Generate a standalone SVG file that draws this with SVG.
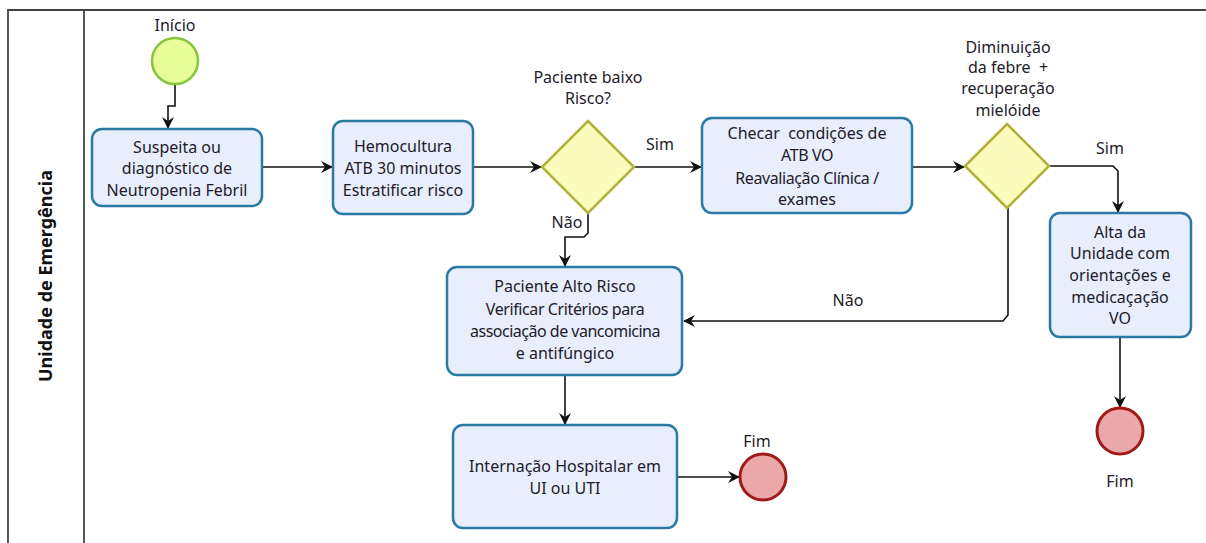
<svg xmlns="http://www.w3.org/2000/svg" width="1206" height="543" viewBox="0 0 1206 543">
<defs>
<style>
text{font-family:"Noto Sans","Open Sans","DejaVu Sans",sans-serif;font-size:16px;fill:#231a2a;text-anchor:middle;white-space:pre}
.task{fill:#e8eefc;stroke:#2a7aa3;stroke-width:2.5}
.gw{fill:#fbfbbb;stroke:#b2b13a;stroke-width:2.5}
.start{fill:#e6fd98;stroke:#86c43c;stroke-width:2.5}
.end{fill:#eaa8a9;stroke:#a11a1a;stroke-width:3}
.edge{fill:none;stroke:#111;stroke-width:1.6}
.pool{fill:none;stroke:#444;stroke-width:1.8}
.cond{letter-spacing:-0.4px}
</style>
<marker id="arr" viewBox="0 0 12 12" refX="11" refY="6" markerWidth="12" markerHeight="12" markerUnits="userSpaceOnUse" orient="auto">
<path d="M0,0 L12,6 L0,12 L4,6 z" fill="#111"/>
</marker>
</defs>
<rect width="1206" height="543" fill="#fff"/>
<g id="pool">
<path class="pool" d="M8,543 L8,10 L1206,10"/>
<line class="pool" x1="84" y1="10" x2="84" y2="543"/>
<text transform="translate(52,276) rotate(-90)" style="font-size:18px;font-weight:bold;fill:#111">Unidade de Emergência</text>
</g>
<g id="connectors">
<path class="edge" d="M175,84 L175,106 L168,106 L168,128" marker-end="url(#arr)"/>
<path class="edge" d="M262,167 L332,167" marker-end="url(#arr)"/>
<path class="edge" d="M473,167 L541,167" marker-end="url(#arr)"/>
<path class="edge" d="M634,167 L701,167" marker-end="url(#arr)"/>
<text x="660" y="150">Sim</text>
<path class="edge" d="M588,213 L588,233 L584,237 L565,237 L565,266" marker-end="url(#arr)"/>
<text x="567" y="228">Não</text>
<path class="edge" d="M912,167 L964,167" marker-end="url(#arr)"/>
<path class="edge" d="M1049,166 L1113,166 L1118,171 L1118,212" marker-end="url(#arr)"/>
<text x="1110" y="154">Sim</text>
<path class="edge" d="M1008,208 L1008,315 L1003,321 L684,321" marker-end="url(#arr)"/>
<text x="848" y="306">Não</text>
<path class="edge" d="M565,375 L565,424" marker-end="url(#arr)"/>
<path class="edge" d="M677,477 L739,477" marker-end="url(#arr)"/>
<path class="edge" d="M1120,337 L1120,407" marker-end="url(#arr)"/>
</g>
<g id="inicio">
<circle class="start" cx="175" cy="61" r="23"/>
<text x="175" y="31">Início</text>
</g>
<g id="suspeita">
<rect class="task" x="92" y="129" width="170" height="77" rx="10"/>
<text x="177" y="153">Suspeita ou</text>
<text x="177" y="174">diagnóstico de</text>
<text x="177" y="196">Neutropenia Febril</text>
</g>
<g id="hemocultura">
<rect class="task" x="333" y="121" width="140" height="93" rx="10"/>
<text x="403" y="152">Hemocultura</text>
<text x="403" y="174">ATB 30 minutos</text>
<text x="403" y="196">Estratificar risco</text>
</g>
<g id="gw1">
<polygon class="gw" points="588,121 634,167 588,213 542,167"/>
<text x="588" y="83">Paciente baixo</text>
<text x="588" y="104">Risco?</text>
</g>
<g id="checar">
<rect class="task" x="702" y="118" width="210" height="95" rx="10"/>
<text x="807" y="139">Checar  condições de</text>
<text x="807" y="161" class="cond">ATB VO</text>
<text x="807" y="184" class="cond">Reavaliação Clínica /</text>
<text x="807" y="205">exames</text>
</g>
<g id="gw2">
<polygon class="gw" points="1007,124 1049,166 1007,208 965,166"/>
<text x="1008" y="53">Diminuição</text>
<text x="1008" y="73">da febre  +</text>
<text x="1008" y="94">recuperação</text>
<text x="1008" y="116">mielóide</text>
</g>
<g id="alta">
<rect class="task" x="1050" y="213" width="141" height="124" rx="10"/>
<text x="1120" y="238">Alta da</text>
<text x="1120" y="259">Unidade com</text>
<text x="1120" y="281">orientações e</text>
<text x="1120" y="303">medicaçação</text>
<text x="1120" y="324">VO</text>
</g>
<g id="fim2">
<circle class="end" cx="1120" cy="431" r="23"/>
<text x="1120" y="487">Fim</text>
</g>
<g id="altorisco">
<rect class="task" x="447" y="267" width="235" height="108" rx="10"/>
<text x="565" y="292">Paciente Alto Risco</text>
<text x="565" y="315" class="cond">Verificar Critérios para</text>
<text x="565" y="337" style="letter-spacing:-0.5px">associação de vancomicina</text>
<text x="565" y="359">e antifúngico</text>
</g>
<g id="internacao">
<rect class="task" x="453" y="425" width="224" height="103" rx="10"/>
<text x="565" y="472">Internação Hospitalar em</text>
<text x="565" y="494">UI ou UTI</text>
</g>
<g id="fim1">
<circle class="end" cx="763" cy="477" r="23"/>
<text x="757" y="447">Fim</text>
</g>
</svg>
